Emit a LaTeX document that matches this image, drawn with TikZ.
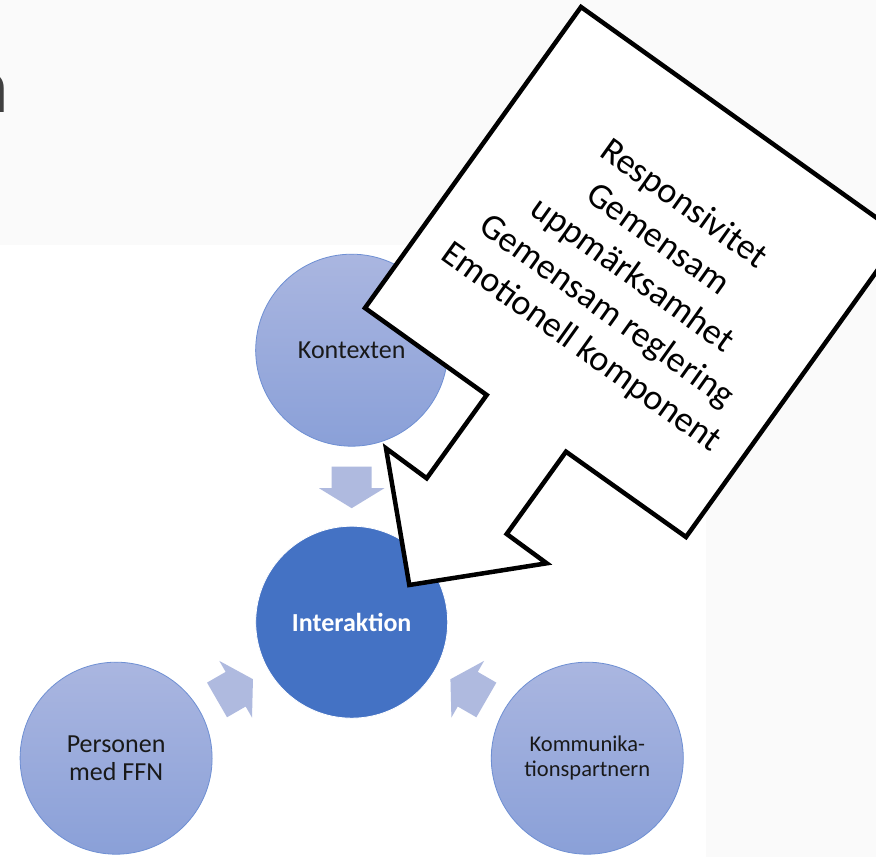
\documentclass[tikz,border=0pt]{standalone}
\usepackage{fontspec}
\setmainfont{Carlito}
\definecolor{pagegray}{HTML}{FAFAFA}
\definecolor{satTop}{HTML}{AAB6E0}
\definecolor{satBot}{HTML}{8AA0D8}
\definecolor{satEdge}{HTML}{6E8FD3}
\definecolor{hubBlue}{HTML}{4472C4}
\definecolor{flowBlue}{HTML}{AFBADF}
\definecolor{titleGray}{HTML}{404040}
\begin{document}
\begin{tikzpicture}[x=1pt,y=1pt,
  sat/.style={circle, minimum size=192pt, inner sep=0pt, top color=satTop,
    bottom color=satBot, draw=satEdge, line width=0.8pt, align=center,
    text=black!90},
  hubnode/.style={circle, minimum size=192pt, inner sep=0pt, fill=hubBlue,
    draw=white, line width=0.8pt, text=white,
    font=\fontsize{26}{30}\selectfont\bfseries},
  flowarrow/.style={fill=flowBlue},
  calloutbox/.style={draw=black, fill=white, line width=4.5pt, line join=miter},
  callouttext/.style={align=center, text=black, rotate=-35.6,
    font=\fontsize{36}{44}\selectfont}
]
\useasboundingbox (0,0) rectangle (876,857);
\clip (0,0) rectangle (876,857);

% page background: grey slide with a white area behind the diagram
\fill[pagegray] (0,0) rectangle (876,857);
\fill[white] (0,0) rectangle (706,612);

% tail of the slide title, cut by the left edge
\node[anchor=base east, inner sep=0pt, text=titleGray,
  font=\fontsize{79}{90}\selectfont] (titleTail) at (9.1,744) {n};

% hub and satellites
\node[hubnode] (inter) at (351.7,234.8) {Interaktion};
\node[sat, font=\fontsize{26}{28.5}\selectfont] (kontext) at (351.7,506.8) {Kontexten};
\node[sat, font=\fontsize{26}{28.5}\selectfont] (person) at (116.1,98.8) {Personen\\med FFN};
\node[sat, font=\fontsize{22.5}{25}\selectfont] (partner) at (587.3,98.8) {Kommunika-\\tionspartnern};

% converging block arrows
\foreach \a in {0,120,240} {
  \fill[flowarrow, shift={(inter.center)}, rotate=\a]
    (-20,155.5) -- (20,155.5) -- (20,134) -- (32.7,134) -- (0,114)
    -- (-32.7,134) -- (-20,134) -- cycle;
}

% down-arrow callout
\coordinate (c1) at (581,850);
\coordinate (c2) at (902,621);
\coordinate (c3) at (686,320);
\coordinate (c4) at (566,405.3);
\coordinate (c5) at (506.7,323);
\coordinate (c6) at (546.7,293.7);
\coordinate (c7) at (409.3,272);
\coordinate (c8) at (386,408.7);
\coordinate (c9) at (426.7,378.7);
\coordinate (c10) at (486.7,462);
\coordinate (c11) at (365,549);
\draw[calloutbox] (c1) -- (c2) -- (c3) -- (c4) -- (c5) -- (c6) -- (c7)
  -- (c8) -- (c9) -- (c10) -- (c11) -- cycle;

\node[callouttext] (calloutText) at (632,581)
  {Responsivitet\\Gemensam\\uppmärksamhet\\Gemensam reglering\\Emotionell komponent};
\end{tikzpicture}
\end{document}
